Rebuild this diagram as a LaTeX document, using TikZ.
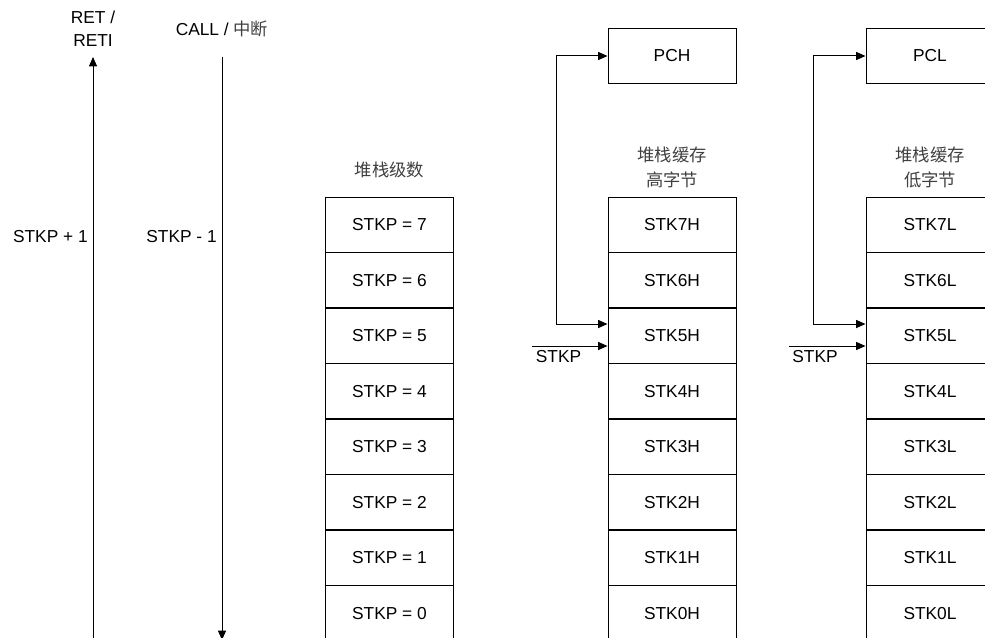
\documentclass[tikz,border=0pt]{standalone}
\usepackage{fontspec}
\setmainfont{Liberation Sans}
\newfontfamily\cjk{Noto Sans CJK SC}
\usetikzlibrary{arrows.meta,positioning,calc}
\definecolor{CjkGray}{HTML}{404040}

\begin{document}
\begin{tikzpicture}[
  x=0.75pt,y=-0.75pt,
  every node/.style={font=\fontsize{13}{17}\selectfont},
  cell/.style={draw,line width=0.75pt,minimum width=96pt,minimum height=41.6pt,inner sep=0pt},
  cn/.style={font=\fontsize{13}{18.5}\selectfont\cjk,text=CjkGray,align=center},
  arr/.style={-{Triangle[length=7pt,width=6pt]},line width=0.75pt},
  both/.style={{Triangle[length=7pt,width=6pt]}-{Triangle[length=7pt,width=6pt]},line width=0.75pt}
]
\useasboundingbox (0,0) rectangle (985,638);
\clip (0,0) rectangle (985,638);
\foreach \i in {0,...,7}{
  \node[cell] (lv\i) at (389.5,{224.75+(7-\i)*55.5}) {STKP = \i};
  \node[cell] (hi\i) at (672,{224.75+(7-\i)*55.5}) {STK\i H};
  \node[cell] (lo\i) at (930,{224.75+(7-\i)*55.5}) {STK\i L};
}
\node[cell] (pch) at (672,56) {PCH};
\node[cell] (pcl) at (930,56) {PCL};
\node[cn] (lvtitle) at (389.5,170) {堆栈级数};
\node[cn] (hititle) at (672,167.5) {堆栈缓存\\高字节};
\node[cn] (lotitle) at (930,167.5) {堆栈缓存\\低字节};
\node[align=center] (ret) at (93,29) {RET /\\RETI};
\node (call) at (222,29) {CALL / {\cjk\color{CjkGray}中断}};
\node[anchor=east,inner sep=0pt] (inc) at (88,237) {STKP + 1};
\node[anchor=east,inner sep=0pt] (dec) at (217,237) {STKP - 1};
\coordinate (upbot) at (93,645);
\coordinate (uptop) at (93,57);
\coordinate (dntop) at (222,57);
\coordinate (dnbot) at (222,640);
\draw[arr] (upbot) -- (uptop);
\draw[arr] (dntop) -- (dnbot);
\coordinate (hiptr) at (532,346);
\coordinate (loptr) at (789,346);
\draw[arr] (hiptr) -- (hiptr -| hi5.west);
\draw[arr] (loptr) -- (loptr -| lo5.west);
\node (hilbl) at (558.5,357) {STKP};
\node (lolbl) at (815,357) {STKP};
\draw[both] (pch.west) -- ++(-51,0) |- ([yshift=8.8pt]hi5.west);
\draw[both] (pcl.west) -- ++(-52,0) |- ([yshift=8.8pt]lo5.west);
\end{tikzpicture}
\end{document}
